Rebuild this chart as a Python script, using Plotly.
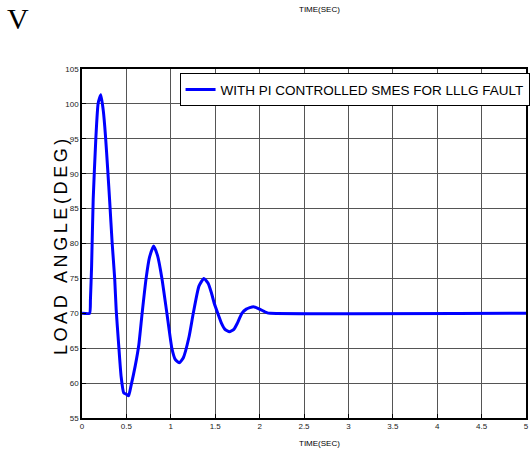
import plotly.graph_objects as go

# Data
time_s = [0, 0.085, 0.095, 0.108, 0.126, 0.156, 0.182, 0.212, 0.24, 0.264, 0.29, 0.312,
          0.34, 0.368, 0.385, 0.41, 0.44, 0.47, 0.50, 0.525, 0.55, 0.60, 0.64, 0.677,
          0.722, 0.76, 0.807, 0.85, 0.90, 0.956, 1.012, 1.05, 1.094, 1.14, 1.205, 1.253,
          1.317, 1.373, 1.42, 1.458, 1.49, 1.529, 1.57, 1.61, 1.66, 1.71, 1.75, 1.80,
          1.85, 1.93, 2.0, 2.08, 2.12, 5.0]
load_angle = [70, 70, 72, 76.7, 86.3, 95.1, 100.1, 101.3, 99.0, 95.5, 90.5, 86,
              80, 75, 70.5, 66, 61, 58.6, 58.4, 58.2, 59.5, 62.5, 65.5, 70,
              75, 78, 79.65, 78.3, 75, 70, 65, 63.4, 62.9, 63.6, 66.6, 70,
              73.9, 75.0, 74.3, 72.9, 71.4, 70.0, 68.6, 67.7, 67.35, 67.7, 68.6, 70.0,
              70.6, 70.95, 70.6, 70.1, 70, 70]

x_ticks = [0, 0.5, 1, 1.5, 2, 2.5, 3, 3.5, 4, 4.5, 5]
x_tick_labels = ["0", "0.5", "1", "1.5", "2", "2.5", "3", "3.5", "4", "4.5", "5"]
y_ticks = [55, 60, 65, 70, 75, 80, 85, 90, 95, 100, 105]

series_name = "WITH PI CONTROLLED SMES FOR LLLG FAULT"

narrow = "Liberation Sans Narrow, Arial Narrow, Liberation Sans, Arial"

fig = go.Figure()
fig.add_trace(go.Scatter(
    x=time_s, y=load_angle, mode="lines", name=series_name,
    line=dict(color="#0000FF", width=3, shape="spline", smoothing=0.5),
))

axis_common = dict(
    showgrid=True, gridcolor="#555555", gridwidth=1,
    showline=True, linecolor="black", linewidth=1.5, mirror=True,
    ticks="inside", ticklen=4, tickcolor="black",
    tickfont=dict(family=narrow, size=8, color="#222222"),
    zeroline=False,
)

fig.update_layout(
    width=532, height=453,
    margin=dict(l=82, r=2, t=69, b=35),
    paper_bgcolor="white", plot_bgcolor="white",
    showlegend=True,
    legend=dict(
        x=1.008, xanchor="right", y=0.988, yanchor="top",
        bordercolor="black", borderwidth=1, bgcolor="white",
        font=dict(family=narrow, size=13.5, color="black"),
        itemwidth=30, tracegroupgap=0,
    ),
    xaxis=dict(range=[0, 5], tickvals=x_ticks, ticktext=x_tick_labels, **axis_common),
    yaxis=dict(range=[55, 105], tickvals=y_ticks, **axis_common),
)

thin = "\u2009"
ytitle = thin.join(list("LOAD ANGLE(DEG)"))

fig.add_annotation(
    text=ytitle, xref="paper", yref="paper", x=-0.047, y=0.49,
    xanchor="center", yanchor="middle", textangle=-90, showarrow=False,
    font=dict(family="Liberation Sans, Arial", size=18, color="black"),
)
fig.add_annotation(
    text="TIME(SEC)", xref="paper", yref="paper", x=0.535, y=-0.055,
    xanchor="center", yanchor="top", showarrow=False,
    font=dict(family=narrow, size=8, color="black"),
)
fig.add_annotation(
    text="TIME(SEC)", xref="paper", yref="paper", x=0.535, y=1.0,
    xanchor="center", yanchor="top", showarrow=False,
    font=dict(family=narrow, size=8, color="black"),
    yshift=66,
)
fig.add_annotation(
    text="V", xref="paper", yref="paper", x=-0.145, y=1.0,
    xanchor="center", yanchor="middle", showarrow=False,
    font=dict(family="Liberation Serif, Times New Roman, serif", size=30, color="black"),
    yshift=51,
)

fig.write_html("out.html", config={"displayModeBar": False},
               post_script="document.body.style.margin='0';")
